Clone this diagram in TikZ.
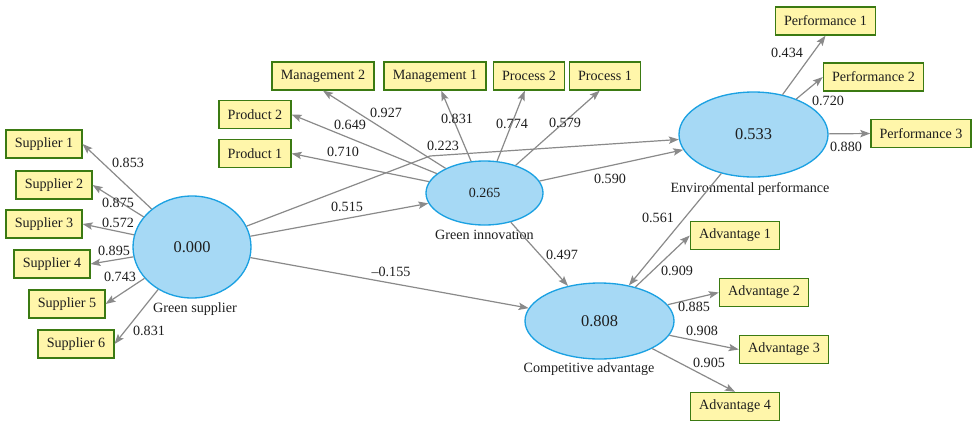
\documentclass[tikz,border=0pt]{standalone}
\usepackage{fontspec}
\setmainfont{Liberation Serif}
\usetikzlibrary{shapes.geometric,arrows.meta}

\definecolor{latfill}{HTML}{A6D9F5}
\definecolor{latline}{HTML}{1BA1E2}
\definecolor{indfill}{HTML}{FFF6AA}
\definecolor{indline}{HTML}{3B7A12}
\definecolor{arrgray}{HTML}{8A8A8A}
\definecolor{txt}{HTML}{1E1E1E}

\tikzset{
  latent/.style={ellipse, draw=latline, fill=latfill, line width=1pt, inner sep=0pt, text=txt},
  indic/.style={rectangle, draw=indline, fill=indfill, line width=1pt, minimum height=21pt,
    inner xsep=6.5pt, inner ysep=0pt, text=txt, font=\fontsize{10.6}{12}\selectfont},
  coef/.style={inner sep=0pt, text=txt, font=\fontsize{10.6}{12}\selectfont},
  capt/.style={inner sep=0pt, text=txt, font=\fontsize{10.6}{12}\selectfont},
  arr/.style={draw=arrgray, line width=0.9pt, -{Stealth[length=7.5pt,width=5.5pt,inset=1.5pt]}}
}

\begin{document}
\begin{tikzpicture}[x=0.75pt,y=-0.75pt]
\useasboundingbox (0,0) rectangle (974,422);

% latent variables
\node[latent, minimum width=88.5pt, minimum height=76.5pt, font=\fontsize{12.3}{14}\selectfont] (gs) at (192,247) {0.000};
\node[latent, minimum width=87.75pt, minimum height=48pt, font=\fontsize{10.5}{12}\selectfont] (gi) at (484.5,193) {0.265};
\node[latent, minimum width=111.75pt, minimum height=63.75pt, font=\fontsize{12.3}{14}\selectfont] (ep) at (753.5,134.5) {0.533};
\node[latent, minimum width=111.75pt, minimum height=57pt, font=\fontsize{12.3}{14}\selectfont] (ca) at (599.5,321) {0.808};

\node[capt] (gs-t) at (195,309) {Green supplier};
\node[capt] (gi-t) at (484.5,235) {Green innovation};
\node[capt] (ep-t) at (750,189) {Environmental performance};
\node[capt] (ca-t) at (589,369) {Competitive advantage};

% indicators
\foreach \i/\x/\y in {1/44/144, 2/54/185, 3/44/224, 4/52/264, 5/67/304, 6/76/344}
  \node[indic] (s\i) at (\x,\y) {Supplier \i};

\node[indic] (pr1) at (255,153.5) {Product 1};
\node[indic] (pr2) at (255,114.5) {Product 2};
\node[indic] (m2) at (323,76) {Management 2};
\node[indic] (m1) at (435,76) {Management 1};
\node[indic] (p2) at (529,76) {Process 2};
\node[indic] (p1) at (605,76) {Process 1};

\node[indic] (pf1) at (825.5,21) {Performance 1};
\node[indic] (pf2) at (873.5,77) {Performance 2};
\node[indic] (pf3) at (921,133.5) {Performance 3};

\node[indic] (a1) at (735,235.5) {Advantage 1};
\node[indic] (a2) at (764,292.5) {Advantage 2};
\node[indic] (a3) at (784,349.5) {Advantage 3};
\node[indic] (a4) at (735,406.5) {Advantage 4};

% outer loadings
\foreach \i in {1,...,6}
  \draw[arr] (gs) -- (s\i.east);

\draw[arr] (gi) -- (pr1.east);
\draw[arr] (gi) -- (pr2.east);
\draw[arr] (gi) -- (m2.south);
\draw[arr] (gi) -- (m1.-67);
\draw[arr] (gi) -- (p2.-106);
\draw[arr] (gi) -- (p1.-110);

\draw[arr] (ep) -- (pf1.south);
\draw[arr] (ep) -- (pf2.west);
\draw[arr] (ep) -- (pf3.west);

\draw[arr] (ca) -- (a1.west);
\draw[arr] (ca) -- (a2.west);
\draw[arr] (ca) -- (a3.west);
\draw[arr] (ca) -- (a4.north);

% paths
\coordinate (gsep-bend) at (430,156);
\draw[arr] (gs) -- (gi);
\draw[arr] (gs) -- (gsep-bend) -- (ep);
\draw[arr] (gs) -- (ca);
\draw[arr] (gi) -- (ep);
\draw[arr] (gi) -- (ca);
\draw[arr] (ep) -- (ca);

% coefficients
\node[coef] (c-s1) at (128,163) {0.853};
\node[coef] (c-s2) at (118,203) {0.875};
\node[coef] (c-s3) at (118,223) {0.572};
\node[coef] (c-s4) at (114,251) {0.895};
\node[coef] (c-s5) at (120,277) {0.743};
\node[coef] (c-s6) at (149,331) {0.831};

\node[coef] (c-m2) at (386,113) {0.927};
\node[coef] (c-pr2) at (350,125) {0.649};
\node[coef] (c-pr1) at (343,152) {0.710};
\node[coef] (c-m1) at (457,119) {0.831};
\node[coef] (c-p2) at (512,124) {0.774};
\node[coef] (c-p1) at (565,123) {0.579};

\node[coef] (c-gsep) at (443,146) {0.223};
\node[coef] (c-gsgi) at (347,207) {0.515};
\node[coef] (c-giep) at (610,179) {0.590};
\node[coef] (c-gsca) at (391,272) {--0.155};
\node[coef] (c-gica) at (562,255) {0.497};
\node[coef] (c-epca) at (658,218) {0.561};

\node[coef] (c-pf1) at (787,53) {0.434};
\node[coef] (c-pf2) at (828,101) {0.720};
\node[coef] (c-pf3) at (846,147) {0.880};

\node[coef] (c-a1) at (677,271) {0.909};
\node[coef] (c-a2) at (694,307) {0.885};
\node[coef] (c-a3) at (702,331) {0.908};
\node[coef] (c-a4) at (709,363) {0.905};
\end{tikzpicture}
\end{document}
